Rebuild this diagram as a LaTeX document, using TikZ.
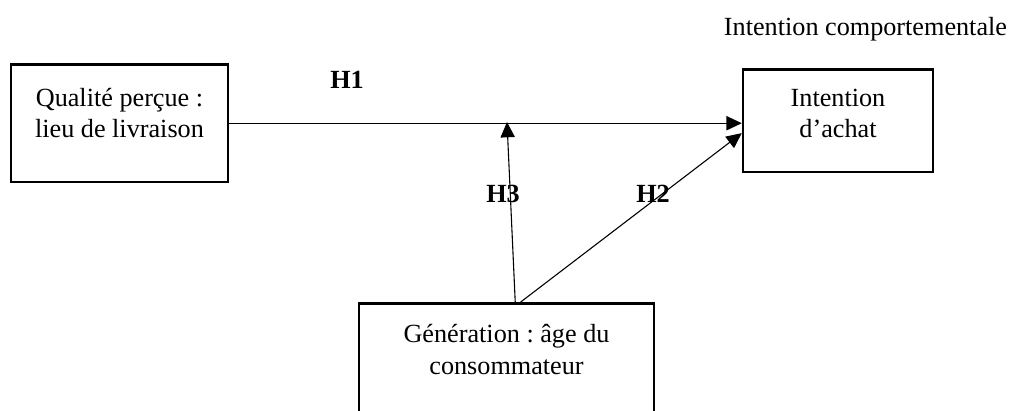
\documentclass[tikz,border=0pt]{standalone}
\usepackage{fontspec}
\setmainfont{Liberation Serif}
\usetikzlibrary{arrows.meta}
\frenchspacing

\begin{document}
\begin{tikzpicture}[x=0.458pt,y=-0.458pt,>={Triangle[length=7pt,width=6.5pt]},
    font=\fontsize{12pt}{14.5pt}\selectfont,
    varbox/.style={draw,line width=1.15pt,align=flush center,anchor=north,inner xsep=0pt,inner ysep=0pt},
    hyp/.style={font=\fontsize{12pt}{14.5pt}\selectfont\bfseries,anchor=base},
    link/.style={->,line width=0.5pt}]
  \clip (0,0) rectangle (1015,410);

  % Variables
  \node[varbox,text width=99.4pt,text height=19.2pt,text depth=34.8pt] (qual) at (119.5,63)
    {Qualité perçue :\\lieu de livraison};
  \node[varbox,text width=87pt,text height=16.9pt,text depth=30.2pt] (achat) at (838,68)
    {Intention\\d’achat};
  \node[varbox,text width=135.1pt,text height=17.9pt,text depth=68.7pt] (gen) at (506.5,302)
    {Génération : âge du\\consommateur};
  \node[anchor=base] (comport) at (865.5,35) {Intention comportementale};

  % Hypotheses
  \coordinate (mod) at (507,122);
  \draw[link] (qual.east) -- (qual.east -| achat.west);
  \draw[link] ([xshift=4pt]gen.north) -- (mod);
  \draw[link] ([xshift=6.5pt]gen.north) -- ([yshift=-5.7pt]achat.west);

  \node[hyp] (h1) at (347,88) {H1};
  \node[hyp] (h3) at (503,202) {H3};
  \node[hyp] (h2) at (653,202) {H2};
\end{tikzpicture}
\end{document}
